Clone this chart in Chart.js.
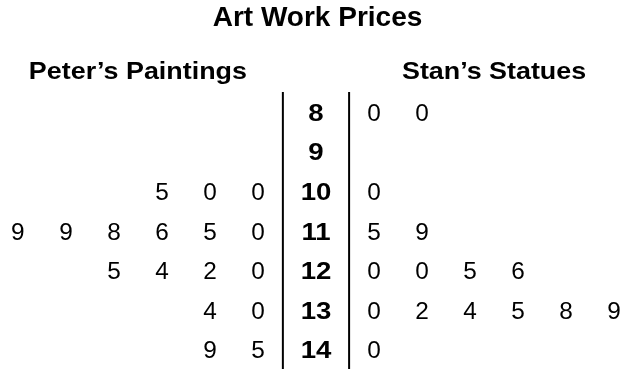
<!DOCTYPE html>
<html>
<head>
<meta charset="utf-8">
<script src="https://cdn.jsdelivr.net/npm/chart.js@4.4.0/dist/chart.umd.min.js"></script>
<style>
  html, body { margin: 0; padding: 0; background: #fff; }
  #wrap { width: 635px; height: 371px; }
</style>
</head>
<body>
<div id="wrap"><canvas id="stemLeafChart"></canvas></div>
<script>
// Data
const chartTitle = 'Art Work Prices';
const sideTitles = ['Peter’s Paintings', 'Stan’s Statues'];
const stems = [8, 9, 10, 11, 12, 13, 14];
// leaves listed from the stem outwards
const peterLeaves = [[], [], [0, 0, 5], [0, 5, 6, 8, 9, 9], [0, 2, 4, 5], [0, 4], [5, 9]];
const stanLeaves = [[0, 0], [], [0], [5, 9], [0, 0, 5, 6], [0, 2, 4, 5, 8, 9], [0]];

// Layout (column units on x, stem units on y)
const LEAF_GAP = 0.21;
const DIVIDER_X = 0.69;
const HEADER_Y = 6.944;
const DIVIDER_TOP = 7.482;
const DIVIDER_BOTTOM = 14.477;
const FONT = "'Liberation Sans', Arial, Helvetica, sans-serif";

function leafPoints(leaves, side) {
    const points = [];
    stems.forEach((stem, row) => {
        leaves[row].forEach((leaf, i) => {
            points.push({ x: side * (i + 1 + LEAF_GAP), y: stem, label: String(leaf) });
        });
    });
    return points;
}

function dividerLine(side) {
    return {
        data: [{ x: side * DIVIDER_X, y: DIVIDER_TOP }, { x: side * DIVIDER_X, y: DIVIDER_BOTTOM }],
        showLine: true,
        borderColor: '#000',
        borderWidth: 2,
        pointRadius: 0,
        fill: false
    };
}

// draws each point's label as text in place of a marker, caps centred on the point
const textLabels = {
    id: 'textLabels',
    afterDatasetsDraw(chart) {
        const ctx = chart.ctx;
        chart.data.datasets.forEach((ds, i) => {
            if (!ds.textSize) return;
            const meta = chart.getDatasetMeta(i);
            meta.data.forEach((pt, j) => {
                ctx.save();
                ctx.translate(pt.x, pt.y + ds.textSize * 0.716 / 2);
                ctx.scale(ds.textStretch, 1);
                ctx.font = (ds.textBold ? 'bold ' : '') + ds.textSize + 'px ' + FONT;
                ctx.fillStyle = '#000';
                ctx.textAlign = 'center';
                ctx.textBaseline = 'alphabetic';
                ctx.fillText(ds.data[j].label, 0, 0);
                ctx.restore();
            });
        });
    }
};

const headerX = 3.5 + LEAF_GAP;

new Chart(document.getElementById('stemLeafChart').getContext('2d'), {
    type: 'scatter',
    data: {
        datasets: [
            dividerLine(-1),
            dividerLine(1),
            {
                data: stems.map(s => ({ x: 0, y: s, label: String(s) })),
                pointRadius: 0,
                textSize: 23,
                textBold: true,
                textStretch: 1.2
            },
            {
                data: leafPoints(peterLeaves, -1),
                pointRadius: 0,
                textSize: 23,
                textStretch: 1.06
            },
            {
                data: leafPoints(stanLeaves, 1),
                pointRadius: 0,
                textSize: 23,
                textStretch: 1.06
            },
            {
                data: [
                    { x: -headerX, y: HEADER_Y, label: sideTitles[0] },
                    { x: headerX, y: HEADER_Y, label: sideTitles[1] }
                ],
                pointRadius: 0,
                textSize: 24,
                textBold: true,
                textStretch: 1.12
            }
        ]
    },
    options: {
        responsive: true,
        maintainAspectRatio: false,
        animation: false,
        events: [],
        layout: { padding: 0 },
        plugins: {
            legend: { display: false },
            tooltip: { enabled: false },
            title: {
                display: true,
                text: chartTitle,
                color: '#000',
                font: { family: FONT, size: 28, weight: 'bold' },
                padding: { top: 1, bottom: 5 }
            }
        },
        scales: {
            x: { type: 'linear', display: false, min: -6.583, max: 6.646 },
            y: { type: 'linear', display: false, reverse: true, min: 6.159, max: 14.528 }
        }
    },
    plugins: [textLabels]
});
</script>
</body>
</html>
